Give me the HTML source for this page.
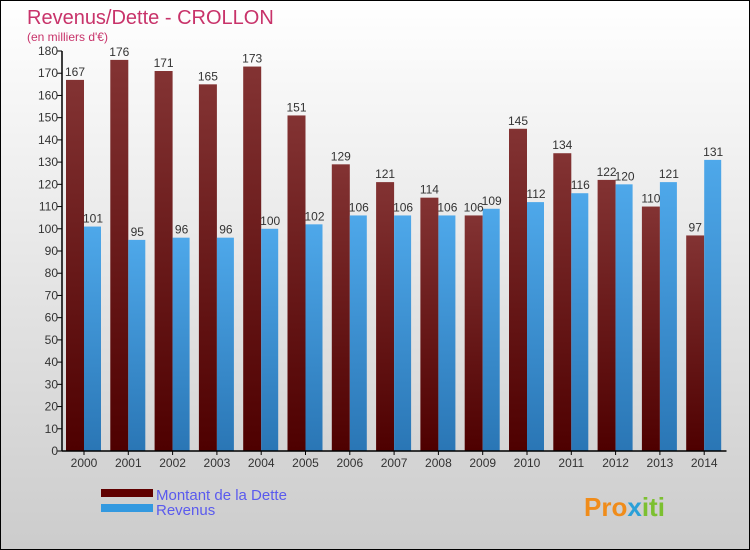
<!DOCTYPE html>
<html><head><meta charset="utf-8"><style>
body{margin:0;width:750px;height:550px;overflow:hidden}
#wrap{position:relative;width:748px;height:548px;border:1px solid #000;background:linear-gradient(#fff,#ccc)}
svg{position:absolute;left:0;top:0}
text{font-family:"Liberation Sans",sans-serif}
</style></head><body>
<div id="wrap">
<svg id="chart" width="748" height="548">
<defs>
<linearGradient id="gd" x1="0" y1="0" x2="0" y2="1"><stop offset="0" stop-color="#833333"/><stop offset="1" stop-color="#4e0000"/></linearGradient>
<linearGradient id="gr" x1="0" y1="0" x2="0" y2="1"><stop offset="0" stop-color="#4ea8ea"/><stop offset="1" stop-color="#2a76b5"/></linearGradient>
</defs>
<text x="26" y="23" font-size="20" fill="#c8336a">Revenus/Dette - CROLLON</text>
<text x="26" y="40" font-size="12" fill="#c8336a">(en milliers d'€)</text>
<g id="plot"></g>
<rect x="100" y="488" width="52" height="8" fill="#600000"/>
<text x="155" y="499" font-size="15" fill="#5a5aee">Montant de la Dette</text>
<rect x="100" y="503" width="52" height="8" fill="#3399e0"/>
<text x="155" y="514" font-size="15" fill="#5a5aee">Revenus</text>
<text x="583" y="515" font-size="26" font-weight="bold" fill="#f08c1a">Pro<tspan fill="#2aa0d8">x</tspan><tspan fill="#7cc030">iti</tspan></text>
</svg>
</div>
<script>
const years=["2000","2001","2002","2003","2004","2005","2006","2007","2008","2009","2010","2011","2012","2013","2014"];
const dette=[167,176,171,165,173,151,129,121,114,106,145,134,122,110,97];
const revenus=[101,95,96,96,100,102,106,106,106,109,112,116,120,121,131];
const yTicks=[0,10,20,30,40,50,60,70,80,90,100,110,120,130,140,150,160,170,180];
const NS="http://www.w3.org/2000/svg";
const g=document.getElementById('plot');
const x0=61,yBase=450,yMax=180,plotH=400,gw=44.3;
const Y=v=>yBase-v/yMax*plotH;
const X=i=>x0+i*gw;
function el(t,a){const e=document.createElementNS(NS,t);for(const k in a)e.setAttribute(k,a[k]);g.appendChild(e);return e;}
yTicks.forEach(v=>{
 const l=el('line',{x1:x0-5,x2:x0,y1:Y(v),y2:Y(v),stroke:'#000'});
 
 
 const t=el('text',{x:x0-4,y:Y(v)+4,'font-size':12,fill:'#333','text-anchor':'end'});
 t.textContent=v;
 
 
});
years.forEach((yr,i)=>{
 const bx=X(i);
 const bd=el('rect',{x:bx+4,y:Y(dette[i]),width:18,height:yBase-Y(dette[i]),fill:'url(#gd)'});
 
 
 const br=el('rect',{x:bx+22,y:Y(revenus[i]),width:17,height:yBase-Y(revenus[i]),fill:'url(#gr)'});
 
 
 const td=el('text',{x:bx+13,y:Y(dette[i])-4,'font-size':12,fill:'#333','text-anchor':'middle'});
 td.textContent=dette[i];
 
 
 const tr=el('text',{x:bx+31,y:Y(revenus[i])-4,'font-size':12,fill:'#333','text-anchor':'middle'});
 tr.textContent=revenus[i];
 
 
 const tk=el('line',{x1:bx+22,x2:bx+22,y1:yBase,y2:yBase+4,stroke:'#000'});
 
 
 const tx=el('text',{x:bx+22,y:yBase+16,'font-size':12,fill:'#333','text-anchor':'middle'});
 tx.textContent=yr;
 
 
});
const ya=el('line',{x1:x0,x2:x0,y1:Y(180),y2:yBase,stroke:'#000','stroke-width':1.5});


const xa=el('line',{x1:x0,x2:X(15),y1:yBase,y2:yBase,stroke:'#000','stroke-width':1.5});


</script>
</body></html>
